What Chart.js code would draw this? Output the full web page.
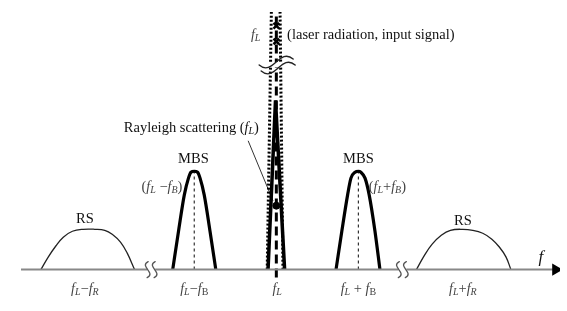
<!DOCTYPE html>
<html>
<head>
<meta charset="utf-8">
<script src="https://cdn.jsdelivr.net/npm/chart.js@4.4.1/dist/chart.umd.min.js"></script>
<style>
html,body{margin:0;padding:0;background:#fff;}
#wrap{width:567px;height:311px;}
</style>
</head>
<body>
<div id="wrap"><canvas id="c" width="567" height="311"></canvas></div>
<script>
// Frequency offset units: fL = 0, fB = 1. Intensity units: MBS peak = 1.
const rsLowX  = [-2.85,-2.76,-2.67,-2.58,-2.47,-2.34,-2.20,-2.08,-1.99,-1.89,-1.81,-1.72];
const rsLowY  = [0,0.13,0.24,0.33,0.39,0.41,0.41,0.40,0.36,0.28,0.17,0];
const rsHighX = [1.68,1.78,1.87,1.98,2.09,2.24,2.36,2.48,2.59,2.68,2.76,2.82];
const rsHighY = [0,0.15,0.26,0.35,0.40,0.41,0.40,0.37,0.31,0.23,0.13,0];
const mbsLowX  = [-1.26,-1.19,-1.12,-1.07,-1.04,-1.00,-0.96,-0.93,-0.88,-0.81,-0.74];
const mbsHighX = [0.71,0.78,0.85,0.89,0.94,0.98,1.01,1.06,1.11,1.18,1.24];
const mbsY     = [0,0.39,0.76,0.93,0.99,1.00,0.99,0.93,0.76,0.39,0];
const mbsCenters = [-1.00, 0.98];
const laserX = [-0.11,-0.02,0.09];
const laserY = [0,1.72,0];
const envLeftX = [-0.12,-0.07], envRightX = [0.07,0.035], envY = [0,2.62];
const centerX = [-0.01,-0.01], centerY = [-0.08,2.62];
const peakMarksY = [2.48,2.32];
const rayleighDot = [-0.01,0.65];
const pointerX = [-0.35,-0.05], pointerY = [1.31,0.70];
const axisX = [-3.09,3.36];
const axisBreaksX = [-1.52,1.51];
const laserBreakY = 2.09;

// labels: [x, y, align, segments, colour]; styles: n normal, i italic, s subscript italic, b subscript upright
const labels = [
  [-0.26, 2.38, 'center', [['f','i'],['L','s']], '#444'],
  [0.12, 2.38, 'left', [['(laser radiation, input signal)','n']], '#111'],
  [-1.85, 1.44, 'left', [['Rayleigh scattering (','n'],['f','i'],['L','s'],[')','n']], '#111'],
  [-1.01, 1.12, 'center', [['MBS','n']], '#111'],
  [0.98, 1.12, 'center', [['MBS','n']], '#111'],
  [-1.39, 0.84, 'center', [['(','n'],['f','i'],['L','s'],[' \u2212','n'],['f','i'],['B','s'],[')','n']], '#444'],
  [1.33, 0.84, 'center', [['(','n'],['f','i'],['L','s'],['+','n'],['f','i'],['B','s'],[')','n']], '#444'],
  [-2.32, 0.51, 'center', [['RS','n']], '#111'],
  [2.24, 0.49, 'center', [['RS','n']], '#111'],
  [3.18, 0.126, 'center', [['f','I']], '#111']
];
const tickLabels = [
  [-2.32, [['f','i'],['L','s'],['\u2212','n'],['f','i'],['R','s']]],
  [-1.00, [['f','i'],['L','s'],['\u2212','n'],['f','i'],['B','b']]],
  [0.00, [['f','i'],['L','s']]],
  [0.98, [['f','i'],['L','s'],[' + ','n'],['f','i'],['B','b']]],
  [2.24, [['f','i'],['L','s'],['+','n'],['f','i'],['R','s']]]
];
const tickY = -0.20;

const zip = (xs, ys) => xs.map((x,i)=>({x, y: ys[i]}));
const SERIF = '"Liberation Serif","Times New Roman",serif';

function fontFor(st){
  if (st==='i') return 'italic 14px '+SERIF;
  if (st==='I') return 'italic 17px '+SERIF;
  if (st==='s') return 'italic 10px '+SERIF;
  if (st==='b') return '10px '+SERIF;
  return '14.5px '+SERIF;
}
function drawRich(ctx, segs, x, y, align, color){
  let w = 0;
  segs.forEach(s=>{ctx.font=fontFor(s[1]); w += ctx.measureText(s[0]).width;});
  let cx = align==='center' ? x - w/2 : x;
  ctx.fillStyle = color; ctx.textBaseline='middle'; ctx.textAlign='left';
  segs.forEach(s=>{
    ctx.font = fontFor(s[1]);
    const dy = (s[1]==='s'||s[1]==='b') ? 3 : 0;
    ctx.fillText(s[0], cx, y+dy);
    cx += ctx.measureText(s[0]).width;
  });
}
function wave(ctx, x0, y0, x1, y1, amp){
  const dx=x1-x0, dy=y1-y0, L=Math.hypot(dx,dy), nx=-dy/L, ny=dx/L;
  ctx.beginPath();
  ctx.moveTo(x0,y0);
  ctx.bezierCurveTo(x0+dx/3+nx*amp, y0+dy/3+ny*amp, x0+2*dx/3-nx*amp, y0+2*dy/3-ny*amp, x1, y1);
  ctx.stroke();
}

const overlay = {
  id:'overlay',
  afterDatasetsDraw(chart){
    const ctx = chart.ctx, xs = chart.scales.x, ys = chart.scales.y;
    ctx.save();
    ctx.lineCap='round';
    // axis breaks
    const by = ys.getPixelForValue(0);
    axisBreaksX.forEach(v=>{
      const px = xs.getPixelForValue(v);
      ctx.fillStyle='#fff'; ctx.fillRect(px-4, by-3, 8, 6);
      ctx.strokeStyle='#555'; ctx.lineWidth=1.3;
      wave(ctx, px-4, by+8, px-3, by-8, 9);
      wave(ctx, px+3, by+8, px+4, by-8, 9);
    });
    // laser break
    const lx = xs.getPixelForValue(0), ly = ys.getPixelForValue(laserBreakY);
    ctx.fillStyle='#fff';
    ctx.fillRect(lx-12, ly-2, 24, 5);
    ctx.strokeStyle='#222'; ctx.lineWidth=1.4;
    wave(ctx, lx-18, ly+1, lx+16, ly-5, 14);
    wave(ctx, lx-16, ly+7, lx+18, ly+1, 14);
    // labels
    labels.forEach(l=>drawRich(ctx, l[3], xs.getPixelForValue(l[0]), ys.getPixelForValue(l[1]), l[2], l[4]));
    tickLabels.forEach(t=>drawRich(ctx, t[1], xs.getPixelForValue(t[0]), ys.getPixelForValue(tickY), 'center', '#444'));
    ctx.restore();
  }
};

const line = (data, opts) => Object.assign({data, showLine:true, pointRadius:0, borderColor:'#000', borderWidth:3, fill:false}, opts);

new Chart(document.getElementById('c'), {
  type:'scatter',
  data:{datasets:[
    line(zip(axisX,[0,0]), {borderColor:'#888', borderWidth:2, pointRadius:[0,7], pointStyle:'triangle', rotation:90, pointBackgroundColor:'#000', pointBorderColor:'#000', pointBorderWidth:0}),
    line(zip(rsLowX, rsLowY), {borderWidth:1.3, tension:0.4, borderColor:'#222'}),
    line(zip(rsHighX, rsHighY), {borderWidth:1.3, tension:0.4, borderColor:'#222'}),
    line(zip(mbsLowX, mbsY), {borderWidth:3.2, cubicInterpolationMode:'monotone'}),
    line(zip(mbsHighX, mbsY), {borderWidth:3.2, cubicInterpolationMode:'monotone'}),
    line(zip([mbsCenters[0],mbsCenters[0]],[0,1]), {borderWidth:1.2, borderDash:[3,3], borderColor:'#333'}),
    line(zip([mbsCenters[1],mbsCenters[1]],[0,1]), {borderWidth:1.2, borderDash:[3,3], borderColor:'#333'}),
    line(zip(envLeftX, envY), {borderWidth:3, borderDash:[2,2]}),
    line(zip(envRightX, envY), {borderWidth:3, borderDash:[2,2]}),
    line(zip(laserX, laserY), {borderWidth:3.5}),
    line(zip(centerX, centerY), {borderWidth:3, borderDash:[9,5]}),
    line(zip(pointerX, pointerY), {borderWidth:1, borderColor:'#333'}),
    {data:[{x:rayleighDot[0], y:rayleighDot[1]}], pointRadius:3.5, pointBackgroundColor:'#000', pointBorderColor:'#000', showLine:false},
    {data:peakMarksY.map(y=>({x:-0.01,y})), pointStyle:'crossRot', pointRadius:4, pointBorderColor:'#000', pointBorderWidth:2.5, showLine:false}
  ]},
  options:{
    responsive:false, animation:false, devicePixelRatio:1,
    layout:{padding:0},
    plugins:{legend:{display:false}, tooltip:{enabled:false}},
    scales:{
      x:{type:'linear', display:false, min:-3.259, max:3.412},
      y:{type:'linear', display:false, min:-0.3495, max:2.670}
    }
  },
  plugins:[overlay]
});
</script>
</body>
</html>
